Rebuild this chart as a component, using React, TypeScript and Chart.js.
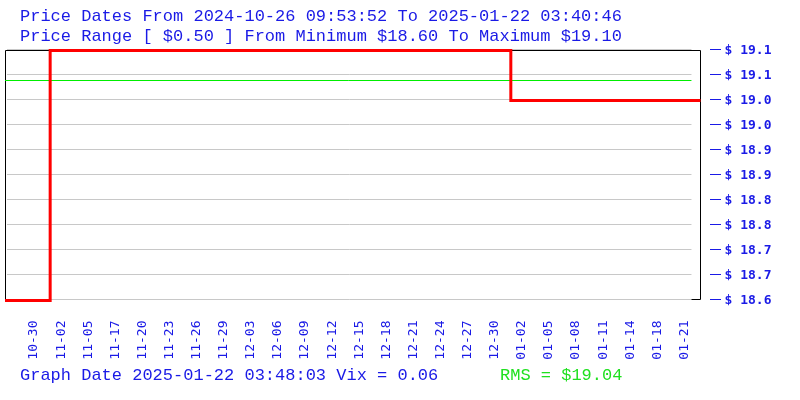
import React, { useEffect, useRef } from "react";
import { Chart, registerables } from "chart.js";

Chart.register(...registerables);

// Header and footer text
const titleLines = [
  "Price Dates From 2024-10-26 09:53:52 To 2025-01-22 03:40:46",
  "Price Range [ $0.50 ] From Minimum $18.60 To Maximum $19.10",
];
const footerLeft = "Graph Date 2025-01-22 03:48:03 Vix = 0.06";
const footerRight = "RMS = $19.04";

// Price history as step changes: sample index -> price
const priceIndex = [0, 5, 56, 77];
const priceValues = [18.6, 19.1, 19.0, 19.0];

// RMS reference line
const rmsValue = 19.04;
const rmsIndex = [0, 76];

// Sample index range and grid extent
const indexMin = 0;
const indexMax = 77;
const gridEndIndex = 76;

// Date tick positions (sample index) and labels
const dateTickIndex = [3, 6, 9, 12, 15, 18, 21, 24, 27, 30, 33, 36, 39, 42, 45, 48, 51, 54, 57, 60, 63, 66, 69, 72, 75];
const dateTickLabels = [
  "10-30", "11-02", "11-05", "11-17", "11-20", "11-23", "11-26", "11-29",
  "12-03", "12-06", "12-09", "12-12", "12-15", "12-18", "12-21", "12-24",
  "12-27", "12-30", "01-02", "01-05", "01-08", "01-11", "01-14", "01-18", "01-21",
];

// Price ticks and their labels
const priceMin = 18.6;
const priceMax = 19.1;
const priceTickValues = [18.6, 18.65, 18.7, 18.75, 18.8, 18.85, 18.9, 18.95, 19.0, 19.05, 19.1];
const priceTickLabels = [
  "$ 18.6", "$ 18.7", "$ 18.7", "$ 18.8", "$ 18.8", "$ 18.9",
  "$ 18.9", "$ 19.0", "$ 19.0", "$ 19.1", "$ 19.1",
];

const BLUE = "#1a1ae6";
const GREEN = "#1fe01f";
const MONO = '"DejaVu Sans Mono", monospace';
const TEXT_FONT = '17px "Liberation Mono", monospace';

const decorPlugin = {
  id: "decor",
  beforeDatasetsDraw(chart: any) {
    const { ctx, chartArea: a, scales } = chart;
    const x = scales.x;
    const y = scales.y;
    ctx.save();
    ctx.lineWidth = 1;

    // horizontal grid lines
    ctx.strokeStyle = "#c8c8c8";
    const gx0 = a.left + 2;
    const gx1 = x.getPixelForValue(gridEndIndex);
    for (const v of priceTickValues) {
      const py = Math.floor(y.getPixelForValue(v)) - 1 + 0.5;
      ctx.beginPath();
      ctx.moveTo(gx0, py);
      ctx.lineTo(gx1, py);
      ctx.stroke();
    }

    // plot frame
    const left = Math.floor(a.left) + 0.5;
    const right = Math.floor(a.right) + 0.5;
    const top = Math.floor(a.top) + 0.5;
    const bottom = Math.floor(a.bottom) - 0.5;
    ctx.strokeStyle = "#000";
    ctx.beginPath();
    ctx.moveTo(left, bottom + 1);
    ctx.lineTo(left, top);
    ctx.lineTo(right, top);
    ctx.lineTo(right, bottom);
    ctx.lineTo(gx1, bottom);
    ctx.stroke();

    // price axis tick dashes
    ctx.strokeStyle = BLUE;
    for (const v of priceTickValues) {
      const py = Math.floor(y.getPixelForValue(v)) - 1 + 0.5;
      ctx.beginPath();
      ctx.moveTo(right + 9.5, py);
      ctx.lineTo(right + 20.5, py);
      ctx.stroke();
    }
    ctx.restore();
  },
  afterDraw(chart: any) {
    const { ctx } = chart;
    ctx.save();
    ctx.font = TEXT_FONT;
    ctx.textAlign = "left";
    ctx.textBaseline = "alphabetic";
    ctx.fillStyle = BLUE;
    ctx.fillText(titleLines[0], 20, 20.5);
    ctx.fillText(titleLines[1], 20, 40.5);
    ctx.fillText(footerLeft, 20, 380);
    ctx.fillStyle = GREEN;
    ctx.fillText(footerRight, 500, 380);
    ctx.restore();
  },
};

export default function App() {
  const ref = useRef<HTMLCanvasElement>(null);

  useEffect(() => {
    const canvas = ref.current;
    if (!canvas) return;
    const chart = new Chart(canvas, {
      type: "line",
      data: {
        datasets: [
          {
            label: "Price",
            data: priceIndex.map((v, i) => ({ x: v, y: priceValues[i] })),
            borderColor: "#ff0000",
            borderWidth: 3,
            stepped: true,
            pointRadius: 0,
            fill: false,
            clip: false,
            borderJoinStyle: "miter",
          },
          {
            label: "RMS",
            data: rmsIndex.map((v) => ({ x: v, y: rmsValue })),
            borderColor: "#00ee00",
            borderWidth: 1,
            pointRadius: 0,
            fill: false,
          },
        ],
      },
      options: {
        responsive: false,
        devicePixelRatio: 1,
        animation: false,
        events: [],
        layout: { padding: { left: 5, top: 50.5, right: 0, bottom: 0 } },
        plugins: {
          legend: { display: false },
          tooltip: { enabled: false },
          title: { display: false },
        },
        scales: {
          x: {
            type: "linear",
            min: indexMin,
            max: indexMax,
            afterBuildTicks: (scale: any) => {
              scale.ticks = dateTickIndex.map((v) => ({ value: v }));
            },
            afterFit: (scale: any) => {
              scale.height = 99.5;
            },
            grid: { display: false, drawTicks: false },
            border: { display: false },
            ticks: {
              autoSkip: false,
              maxRotation: 90,
              minRotation: 90,
              padding: 20,
              labelOffset: 2,
              color: BLUE,
              font: { family: MONO, size: 13 },
              callback: (_v: any, i: number) => dateTickLabels[i],
            },
          },
          y: {
            type: "linear",
            position: "right",
            min: priceMin,
            max: priceMax,
            afterBuildTicks: (scale: any) => {
              scale.ticks = priceTickValues.map((v) => ({ value: v }));
            },
            afterFit: (scale: any) => {
              scale.width = 99.5;
            },
            grid: { display: false, drawTicks: false },
            border: { display: false },
            ticks: {
              padding: 24,
              color: BLUE,
              font: { family: MONO, size: 13, weight: "bold" },
              callback: (_v: any, i: number) => priceTickLabels[i],
            },
          },
        },
      },
      plugins: [decorPlugin],
    } as any);
    return () => chart.destroy();
  }, []);

  return (
    <canvas
      ref={ref}
      width={800}
      height={400}
      style={{ position: "fixed", left: 0, top: 0, width: 800, height: 400, display: "block", background: "#fff" }}
    />
  );
}
